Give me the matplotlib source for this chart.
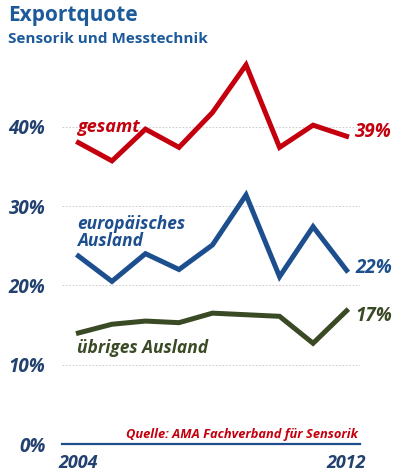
import matplotlib.pyplot as plt

# Daten (Exportquote in %)
jahre = [2004, 2005, 2006, 2007, 2008, 2009, 2010, 2011, 2012]
gesamt = [38.0, 35.7, 39.7, 37.4, 41.8, 47.8, 37.4, 40.2, 38.8]
europa = [23.7, 20.5, 24.0, 22.0, 25.1, 31.4, 21.1, 27.4, 21.9]
uebrige = [14.0, 15.1, 15.5, 15.3, 16.5, 16.3, 16.1, 12.7, 16.8]
yticks = [0, 10, 20, 30, 40]
ytick_labels = ['0%', '10%', '20%', '30%', '40%']

rot = '#c4000e'
blau = '#1d4f8e'
gruen = '#394a25'
dunkelblau = '#22416f'

plt.rcParams['font.family'] = ['Open Sans', 'DejaVu Sans']

fig = plt.figure(figsize=(4, 4.76), dpi=100)
ax = fig.add_axes([0.155, 0.0672, 0.745, 0.8173])

ax.set_xlim(2003.51, 2012.40)
ax.set_ylim(0, 49.05)

for y in yticks[1:]:
    ax.axhline(y, color='#c4c4c4', lw=0.6, ls=(0, (2, 2)), zorder=1)
ax.axhline(0, color=blau, lw=1.6, zorder=3, clip_on=False)

ax.plot(jahre, gesamt, color=rot, lw=3.6, solid_joinstyle='miter', zorder=4)
ax.plot(jahre, europa, color=blau, lw=3.6, solid_joinstyle='miter', zorder=4)
ax.plot(jahre, uebrige, color=gruen, lw=3.6, solid_joinstyle='miter', zorder=4)

# Beschriftungen
ax.text(2003.97, 40.0, 'gesamt', color=rot, fontsize=13, fontweight='bold',
        style='italic', va='center', ha='left')
ax.text(2003.97, 26.7, 'europäisches\nAusland', color=blau, fontsize=12.5,
        fontweight='bold', style='italic', va='center', ha='left', linespacing=0.95)
ax.text(2003.97, 12.1, 'übriges Ausland', color=gruen, fontsize=12.5,
        fontweight='bold', style='italic', va='center', ha='left')

ax.text(2012.25, 39.4, '39%', color=rot, fontsize=13.5, fontweight='bold',
        style='italic', va='center', ha='left', clip_on=False)
ax.text(2012.25, 22.2, '22%', color=blau, fontsize=13.5, fontweight='bold',
        style='italic', va='center', ha='left', clip_on=False)
ax.text(2012.25, 16.2, '17%', color=gruen, fontsize=13.5, fontweight='bold',
        style='italic', va='center', ha='left', clip_on=False)

ax.text(2012.35, 0.4, 'Quelle: AMA Fachverband für Sensorik', color=rot,
        fontsize=9.3, fontweight='bold', style='italic', va='bottom', ha='right')

ax.set_yticks(yticks)
ax.set_yticklabels(ytick_labels)
ax.set_xticks([2004, 2012])
ax.set_xticklabels(['2004', '2012'])
ax.tick_params(axis='y', length=0, pad=12, labelsize=13.5, labelcolor=dunkelblau)
ax.tick_params(axis='x', length=0, pad=7, labelsize=13, labelcolor=dunkelblau)
for lab in ax.get_yticklabels() + ax.get_xticklabels():
    lab.set_fontweight('bold')
    lab.set_fontstyle('italic')

for s in ax.spines.values():
    s.set_visible(False)

fig.text(0.02, 0.99, 'Exportquote', color='#1c5a9b', fontsize=15,
         fontweight='bold', va='top', ha='left')
fig.text(0.02, 0.932, 'Sensorik und Messtechnik', color='#1c5a9b', fontsize=11,
         fontweight='bold', va='top', ha='left')

fig.savefig('out.png', dpi=100)
